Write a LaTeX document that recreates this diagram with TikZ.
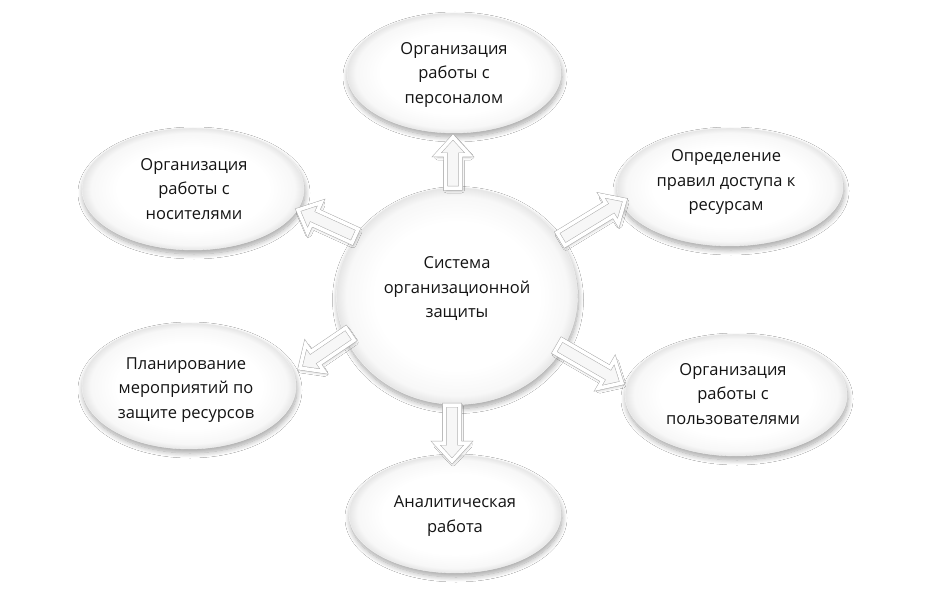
\documentclass[tikz,border=0pt]{standalone}
\usepackage{fontspec}
\setmainfont{Open Sans}
\usetikzlibrary{shapes.geometric,calc,shadows.blur}
\pgfdeclareradialshading{bubbleshade}{\pgfpoint{0bp}{0bp}}{color(0bp)=(white); color(17bp)=(white); color(23bp)=(black!3); color(25bp)=(black!10); color(50bp)=(black!10)}
\newcommand\blockarr[2]{%
  \coordinate (ba-c) at ($(#2)!18pt!(#1)$);
  \filldraw[arrowsty] ($(#1)!7.5pt!90:(#2)$) -- ($(ba-c)!7.5pt!90:(#2)$) -- ($(ba-c)!16.5pt!90:(#2)$) -- (#2) -- ($(ba-c)!16.5pt!-90:(#2)$) -- ($(ba-c)!7.5pt!-90:(#2)$) -- ($(#1)!7.5pt!-90:(#2)$) -- cycle;
}
\tikzset{
  bubble/.style={ellipse, inner sep=0pt, shading=bubbleshade, draw=black!5, line width=0.4pt,
    blur shadow={shadow xshift=1pt, shadow yshift=-4pt, shadow blur steps=10, shadow blur radius=5pt, shadow opacity=35}},
  txt/.style={inner sep=0pt, font=\fontsize{16.5}{24.5}\selectfont, text=black!92, align=center},
  arrowsty/.style={fill=black!3, draw=black!33, line width=0.5pt, double=white, double distance=3.5pt, line join=miter,
    blur shadow={shadow xshift=1pt, shadow yshift=-2pt, shadow blur steps=6, shadow blur radius=3pt, shadow opacity=25}}
}
\begin{document}
\begin{tikzpicture}[x=1pt,y=-1pt]
\useasboundingbox[fill=white] (0,0) rectangle (944,596);
\node[bubble, minimum width=241pt, minimum height=217pt] (c) at (457,296) {};
\node[bubble, minimum width=214pt, minimum height=120pt] (t) at (454,73) {};
\node[bubble, minimum width=222pt, minimum height=122pt] (tl) at (193,189) {};
\node[bubble, minimum width=226pt, minimum height=118pt] (tr) at (730,187) {};
\node[bubble, minimum width=214pt, minimum height=126pt] (bl) at (189,386) {};
\node[bubble, minimum width=222pt, minimum height=122pt] (br) at (736,395) {};
\node[bubble, minimum width=212pt, minimum height=118pt] (b) at (455,514) {};
\node[txt] (ct) at ($(c)+(0,-7)$) {Система\\организационной\\защиты};
\node[txt] (tt) at ($(t)+(0,2)$) {Организация\\работы с\\персоналом};
\node[txt] (tlt) at ($(tl)+(1,0)$) {Организация\\работы с\\носителями};
\node[txt] (trt) at ($(tr)+(-4,-5)$) {Определение\\правил доступа к\\ресурсам};
\node[txt] (blt) at ($(bl)+(-3,4)$) {Планирование\\мероприятий по\\защите ресурсов};
\node[txt] (brt) at ($(br)+(-3,-1)$) {Организация\\работы с\\пользователями};
\node[txt] (bt) at ($(b)+(0,2)$) {Аналитическая\\работа};
% arrow endpoints
\coordinate (a1s) at (453,188); \coordinate (a1e) at (453,137);
\coordinate (a2s) at (452,405); \coordinate (a2e) at (452,461);
\coordinate (a3s) at (355,236); \coordinate (a3e) at (298,210);
\coordinate (a4s) at (561,239); \coordinate (a4e) at (625,200);
\coordinate (a5s) at (350,334); \coordinate (a5e) at (300,368);
\coordinate (a6s) at (558,346); \coordinate (a6e) at (622,383);
\blockarr{a1s}{a1e}
\blockarr{a2s}{a2e}
\blockarr{a3s}{a3e}
\blockarr{a4s}{a4e}
\blockarr{a5s}{a5e}
\blockarr{a6s}{a6e}
\end{tikzpicture}
\end{document}
